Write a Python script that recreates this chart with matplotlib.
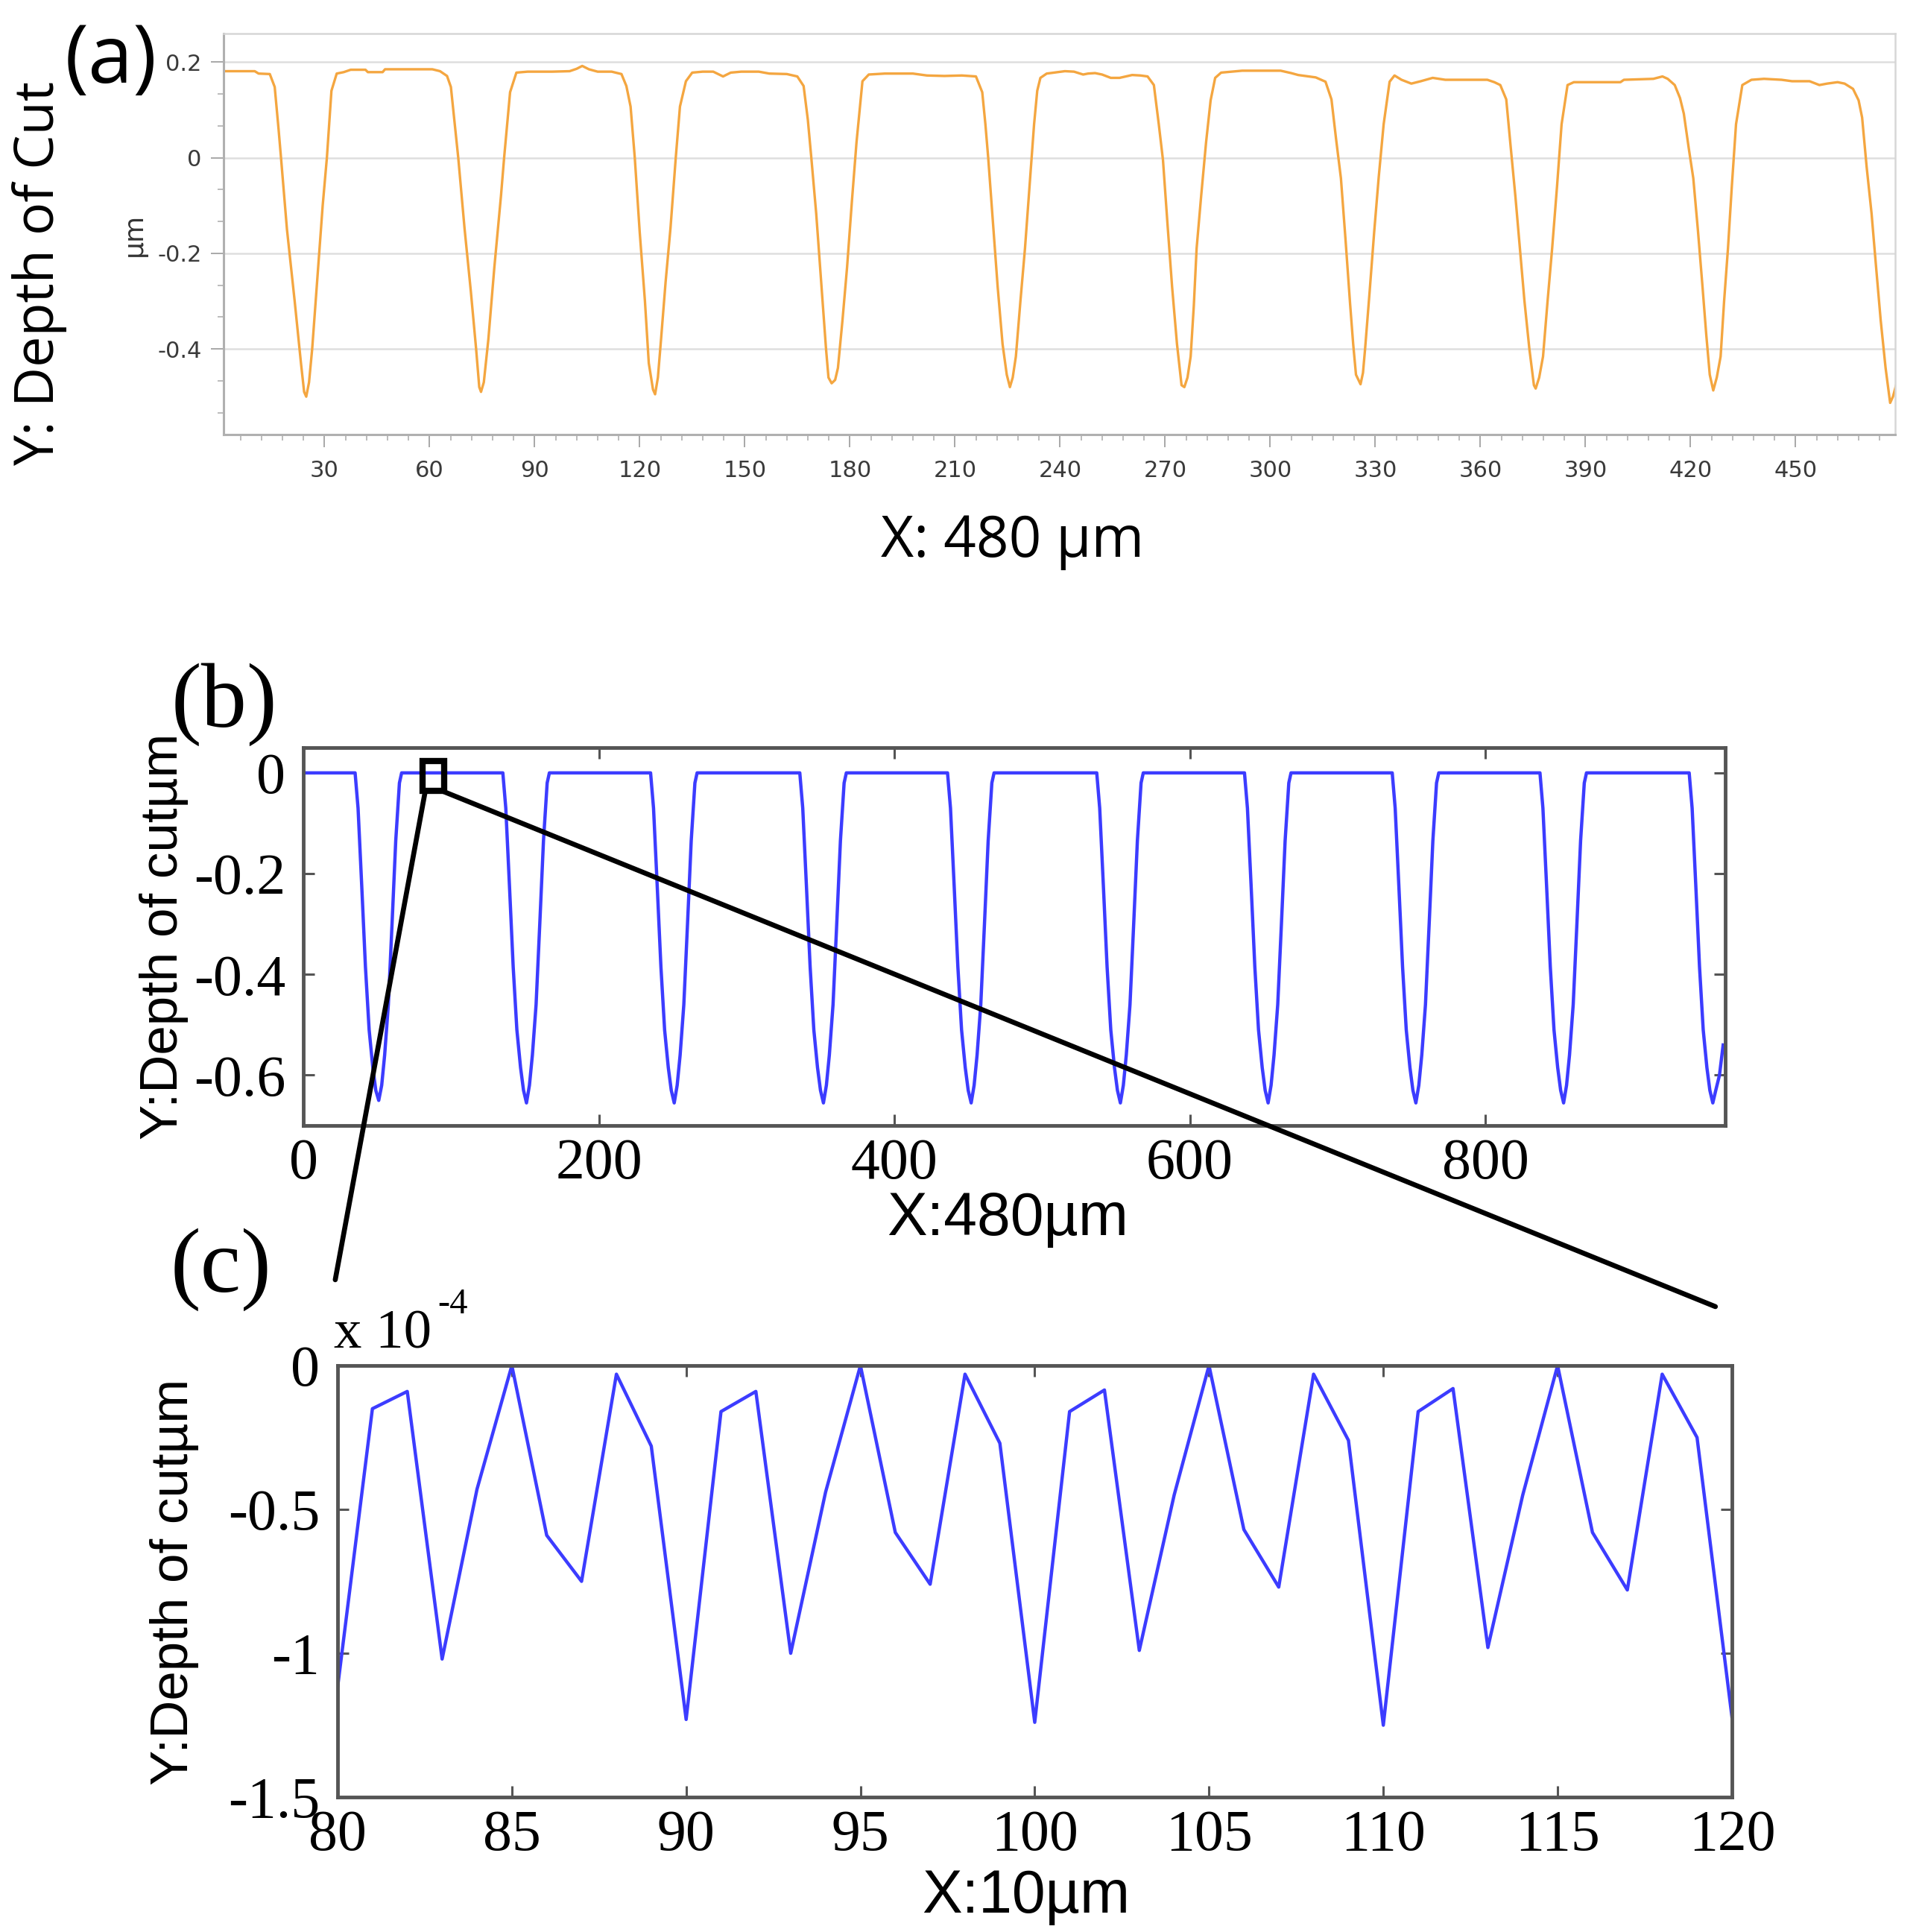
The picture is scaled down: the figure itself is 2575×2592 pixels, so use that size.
import matplotlib
matplotlib.use('Agg')
import matplotlib.pyplot as plt
from matplotlib import font_manager
from matplotlib.ticker import MultipleLocator, FormatStrFormatter
from matplotlib.patches import Rectangle, ConnectionPatch

plt.rcParams['axes.unicode_minus'] = False

names = set(f.name for f in font_manager.fontManager.ttflist)
if 'Liberation Sans Narrow' in names:
    narrow, narrow_size = 'Liberation Sans Narrow', 27
else:
    narrow, narrow_size = 'DejaVu Sans', 22

# (a) measured profile, x in um, depth in um
a_x = [1.2, 6, 10.1, 11.2, 14.4,
       15.8, 16.9, 17.6, 19.3, 21.5, 23.3, 24.2, 24.8, 25.6, 26.5, 28.0, 29.5, 30.7, 32.0, 33.5,
       35.5, 37.5, 41.7, 42.4, 46.6, 47.3, 60.8, 63, 65,
       66.1, 67.2, 68.2, 70, 71.8, 73.3, 74.2, 74.7, 75.5, 76.8, 78.5, 80.4, 81.3, 83.0, 84.8,
       88, 95, 100, 102, 103.6, 105.5, 108, 112, 114.8,
       116.2, 117.4, 118.6, 120.0, 121.5, 122.6, 123.8, 124.4, 125.2, 126.1, 127.4, 128.8, 130.3, 131.5, 133.2, 135,
       138, 141, 143.8, 146, 149, 154, 157, 162, 165,
       166.8, 168, 169, 170.4, 172, 173.2, 173.9, 174.8, 175.8, 176.6, 177.9, 179.2, 180.6, 181.9, 183.6, 185.4,
       190, 198, 202, 207, 212, 216,
       217.8, 218.7, 219.5, 221, 222.2, 223.6, 224.8, 225.7, 226.5, 227.4, 228.7, 230, 231.3, 232.6, 233.5, 234.4, 236.2,
       241.4, 244, 246.6, 248, 250, 252, 254.5, 257, 260.6, 263, 265,
       266.8, 268.2, 269.4, 270.7, 272, 273.4, 274.7, 275.5, 276.4, 277.3, 278.2, 279, 280.3, 281.7, 283, 284.3, 286,
       289, 292, 303, 306, 308, 311, 313, 315.8,
       317.5, 318.8, 320.2, 321.5, 322.8, 323.7, 324.5, 325.8, 326.5, 327.1, 328.4, 329.7, 331, 332.4, 334.1, 335.5,
       337.5, 340.3, 343, 346.4, 350, 362, 364, 365.7,
       367.4, 368.7, 370, 371.3, 372.6, 374, 375.3, 375.8, 376.8, 377.9, 379.2, 380.5, 381.9, 383.2, 384.9, 386.7,
       400, 401, 409.4, 412, 413.5, 415.5, 417, 418.1,
       419.5, 420.8, 422.1, 423.4, 424.5, 425.5, 426.5, 427.5, 428.6, 429.6, 430.7, 431.8, 433, 434.8, 437.4,
       441, 446, 449, 454, 456.8, 459, 462, 464, 466.4, 468, 469,
       470.3, 471.7, 473, 474.3, 475.7, 477, 477.8, 478.7]
a_y = [0.181, 0.181, 0.181, 0.176, 0.175,
       0.148, 0.06, 0.0, -0.15, -0.30, -0.43, -0.49, -0.50, -0.47, -0.40, -0.25, -0.10, 0.0, 0.14, 0.176,
       0.179, 0.184, 0.184, 0.179, 0.179, 0.185, 0.185, 0.181, 0.171,
       0.148, 0.07, 0.0, -0.148, -0.28, -0.40, -0.48, -0.49, -0.47, -0.38, -0.23, -0.08, 0.0, 0.137, 0.178,
       0.18, 0.18, 0.181, 0.186, 0.192, 0.185, 0.18, 0.18, 0.175,
       0.15, 0.107, 0.0, -0.155, -0.30, -0.43, -0.485, -0.495, -0.46, -0.38, -0.26, -0.147, 0.0, 0.107, 0.16, 0.178,
       0.18, 0.18, 0.17, 0.178, 0.18, 0.18, 0.176, 0.175, 0.170,
       0.15, 0.08, 0.0, -0.117, -0.28, -0.40, -0.46, -0.472, -0.465, -0.44, -0.34, -0.23, -0.09, 0.032, 0.16, 0.174,
       0.176, 0.176, 0.172, 0.171, 0.172, 0.17,
       0.137, 0.07, 0.0, -0.15, -0.27, -0.39, -0.454, -0.48, -0.46, -0.416, -0.30, -0.19, -0.06, 0.07, 0.14, 0.167, 0.176,
       0.181, 0.18, 0.174, 0.176, 0.177, 0.174, 0.167, 0.167, 0.173, 0.172, 0.17,
       0.152, 0.07, -0.005, -0.14, -0.27, -0.39, -0.476, -0.48, -0.46, -0.416, -0.31, -0.19, -0.08, 0.032, 0.12, 0.167, 0.178,
       0.18, 0.182, 0.182, 0.177, 0.173, 0.170, 0.168, 0.159,
       0.122, 0.04, -0.043, -0.17, -0.304, -0.39, -0.454, -0.474, -0.45, -0.40, -0.28, -0.155, -0.04, 0.07, 0.159, 0.172,
       0.163, 0.155, 0.16, 0.167, 0.163, 0.163, 0.158, 0.152,
       0.122, 0.02, -0.08, -0.19, -0.30, -0.40, -0.476, -0.483, -0.46, -0.416, -0.30, -0.19, -0.06, 0.07, 0.152, 0.158,
       0.158, 0.163, 0.165, 0.17, 0.165, 0.152, 0.125, 0.092,
       0.02, -0.043, -0.15, -0.267, -0.37, -0.454, -0.487, -0.46, -0.416, -0.30, -0.19, -0.06, 0.07, 0.152, 0.163,
       0.165, 0.163, 0.16, 0.16, 0.152, 0.155, 0.158, 0.155, 0.144, 0.12, 0.084,
       -0.02, -0.117, -0.23, -0.34, -0.44, -0.513, -0.50, -0.476]
a_xticks = [30, 60, 90, 120, 150, 180, 210, 240, 270, 300, 330, 360, 390, 420, 450]
a_yticks = [0.2, 0, -0.2, -0.4]

# (b) simulated profile over 480 um
b_x = [0,
       35, 37, 39.5, 42, 44.5, 47, 49, 51, 53, 55, 57.5, 60, 62.5, 65, 66.5,
       135, 137, 139.5, 142, 144.5, 147, 149, 151, 153, 155, 157.5, 160, 162.5, 165, 166.5,
       235, 237, 239.5, 242, 244.5, 247, 249, 251, 253, 255, 257.5, 260, 262.5, 265, 266.5,
       336, 338, 340.5, 343, 345.5, 348, 350, 352, 354, 356, 358.5, 361, 363.5, 366, 367.5,
       436, 438, 440.5, 443, 445.5, 448, 450, 452, 454, 456, 458.5, 461, 463.5, 466, 467.5,
       537, 539, 541.5, 544, 546.5, 549, 551, 553, 555, 557, 559.5, 562, 564.5, 567, 568.5,
       637, 639, 641.5, 644, 646.5, 649, 651, 653, 655, 657, 659.5, 662, 664.5, 667, 668.5,
       737, 739, 741.5, 744, 746.5, 749, 751, 753, 755, 757, 759.5, 762, 764.5, 767, 768.5,
       837, 839, 841.5, 844, 846.5, 849, 851, 853, 855, 857, 859.5, 862, 864.5, 867, 868.5,
       938, 940, 942.5, 945, 947.5, 950, 952, 954, 956, 958.5, 961]
b_y = [0,
       0, -0.07, -0.225, -0.385, -0.51, -0.585, -0.63, -0.65, -0.62, -0.56, -0.46, -0.30, -0.135, -0.02, 0,
       0, -0.07, -0.225, -0.385, -0.51, -0.585, -0.63, -0.655, -0.62, -0.56, -0.46, -0.30, -0.135, -0.02, 0,
       0, -0.07, -0.225, -0.385, -0.51, -0.585, -0.63, -0.655, -0.62, -0.56, -0.46, -0.30, -0.135, -0.02, 0,
       0, -0.07, -0.225, -0.385, -0.51, -0.585, -0.63, -0.655, -0.62, -0.56, -0.46, -0.30, -0.135, -0.02, 0,
       0, -0.07, -0.225, -0.385, -0.51, -0.585, -0.63, -0.655, -0.62, -0.56, -0.46, -0.30, -0.135, -0.02, 0,
       0, -0.07, -0.225, -0.385, -0.51, -0.585, -0.63, -0.655, -0.62, -0.56, -0.46, -0.30, -0.135, -0.02, 0,
       0, -0.07, -0.225, -0.385, -0.51, -0.585, -0.63, -0.655, -0.62, -0.56, -0.46, -0.30, -0.135, -0.02, 0,
       0, -0.07, -0.225, -0.385, -0.51, -0.585, -0.63, -0.655, -0.62, -0.56, -0.46, -0.30, -0.135, -0.02, 0,
       0, -0.07, -0.225, -0.385, -0.51, -0.585, -0.63, -0.655, -0.62, -0.56, -0.46, -0.30, -0.135, -0.02, 0,
       0, -0.07, -0.225, -0.385, -0.51, -0.585, -0.63, -0.655, -0.63, -0.60, -0.54]
b_xticks = [0, 200, 400, 600, 800]
b_yticks = [0, -0.2, -0.4, -0.6]

# (c) zoom 80-120, depth in units of 1e-4 um
c_x = list(range(80, 121))
c_y = [-1.12, -0.15, -0.09, -1.02, -0.43, 0.0, -0.59, -0.75, -0.03, -0.28,
       -1.23, -0.16, -0.09, -1.00, -0.44, 0.0, -0.58, -0.76, -0.03, -0.27,
       -1.24, -0.16, -0.085, -0.99, -0.45, 0.0, -0.57, -0.77, -0.03, -0.26,
       -1.25, -0.16, -0.08, -0.98, -0.45, 0.0, -0.58, -0.78, -0.03, -0.25,
       -1.22]
c_xticks = [80, 85, 90, 95, 100, 105, 110, 115, 120]
c_yticks = [0, -0.5, -1, -1.5]

blue = '#3c3cff'
frame = '#555555'

fig = plt.figure(figsize=(25.75, 25.92), dpi=100)

# ---- (a) measurement
ax1 = fig.add_axes([0.1165, 0.7749, 0.8712, 0.2078])
ax1.plot(a_x, a_y, color='#f4a640', lw=2.4)
ax1.set_xlim(1.2, 478.5)
ax1.set_ylim(-0.58, 0.26)
ax1.set_xticks(a_xticks)
ax1.set_yticks(a_yticks)
ax1.xaxis.set_minor_locator(MultipleLocator(6))
ax1.yaxis.set_minor_locator(MultipleLocator(0.2 / 3))
ax1.yaxis.set_major_formatter(FormatStrFormatter('%g'))
ax1.grid(axis='y', which='major', color='#dedede', lw=1.8)
ax1.set_axisbelow(True)
for s in ['top', 'right']:
    ax1.spines[s].set_color('#d6d6d6')
    ax1.spines[s].set_linewidth(1.8)
for s in ['left', 'bottom']:
    ax1.spines[s].set_color('#b0b0b0')
    ax1.spines[s].set_linewidth(2.2)
ax1.tick_params(which='major', length=12, width=1.4, color='#a8a8a8',
                labelsize=narrow_size, labelcolor='#3a3a3a')
ax1.tick_params(which='minor', length=6, width=1.2, color='#b0b0b0')
ax1.tick_params(axis='x', pad=12)
ax1.tick_params(axis='y', pad=9)
for lab in ax1.get_xticklabels() + ax1.get_yticklabels():
    lab.set_family(narrow)

fig.text(0.0579, 0.9682, '(a)', family='Open Sans', size=78, ha='center', va='center')
fig.text(0.0205, 0.8584, 'Y: Depth of Cut', rotation=90, family='Open Sans', size=53,
         ha='center', va='center')
fig.text(0.0699, 0.8785, 'µm', rotation=90, family='DejaVu Sans', size=26, color='#333333',
         ha='center', va='center')
fig.text(0.5276, 0.7195, 'X: 480 µm', family='Open Sans', size=55, ha='center', va='center')

# ---- (b) simulation
ax2 = fig.add_axes([0.1581, 0.4174, 0.7410, 0.1956])
ax2.plot(b_x, b_y, color=blue, lw=3.2)
ax2.set_xlim(0, 962.5)
ax2.set_ylim(-0.7, 0.05)
ax2.set_xticks(b_xticks)
ax2.set_yticks(b_yticks)
ax2.yaxis.set_major_formatter(FormatStrFormatter('%g'))

# ---- (c) zoomed simulation
ax3 = fig.add_axes([0.1759, 0.0698, 0.7266, 0.2234])
ax3.plot(c_x, c_y, color=blue, lw=3.2)
ax3.set_xlim(80, 120)
ax3.set_ylim(-1.5, 0)
ax3.set_xticks(c_xticks)
ax3.set_yticks(c_yticks)
ax3.yaxis.set_major_formatter(FormatStrFormatter('%g'))

for ax in [ax2, ax3]:
    for s in ax.spines.values():
        s.set_color(frame)
        s.set_linewidth(3.5)
    ax.tick_params(direction='in', top=True, right=True, length=11, width=2.2,
                   color=frame, labelsize=56)
    ax.tick_params(axis='x', pad=12)
    ax.tick_params(axis='y', pad=17)
    for lab in ax.get_xticklabels() + ax.get_yticklabels():
        lab.set_family('Liberation Serif')

fig.text(0.1167, 0.6354, '(b)', family='Liberation Serif', size=88, ha='center', va='center')
fig.text(0.0854, 0.5154, 'Y:Depth of cutµm', rotation=90, family='Liberation Sans', size=51,
         ha='center', va='center')
fig.text(0.525, 0.3688, 'X:480µm', family='Liberation Sans', size=58, ha='center', va='center')

fig.text(0.1152, 0.343, '(c)', family='Liberation Serif', size=88, ha='center', va='center')
fig.text(0.1741, 0.3024, 'x 10', family='Liberation Serif', size=54, ha='left', va='baseline')
fig.text(0.2282, 0.3203, '-4', family='Liberation Serif', size=35, ha='left', va='baseline')
fig.text(0.0907, 0.1811, 'Y:Depth of cutµm', rotation=90, family='Liberation Sans', size=51,
         ha='center', va='center')
fig.text(0.5346, 0.0183, 'X:10µm', family='Liberation Sans', size=58, ha='center', va='center')

# zoom window and the two guide lines towards (c)
ax2.add_patch(Rectangle((80.5, -0.036), 15, 0.059, fill=False, ec='black', lw=6, zorder=5))
for xa, xb, yb in [(82.5, 0.1747, 0.3376), (94.0, 0.8939, 0.3237)]:
    con = ConnectionPatch(xyA=(xa, -0.036), coordsA=ax2.transData,
                          xyB=(xb, yb), coordsB=fig.transFigure,
                          color='black', lw=4.8, capstyle='round')
    fig.add_artist(con)

fig.savefig('out.png', dpi=100)
